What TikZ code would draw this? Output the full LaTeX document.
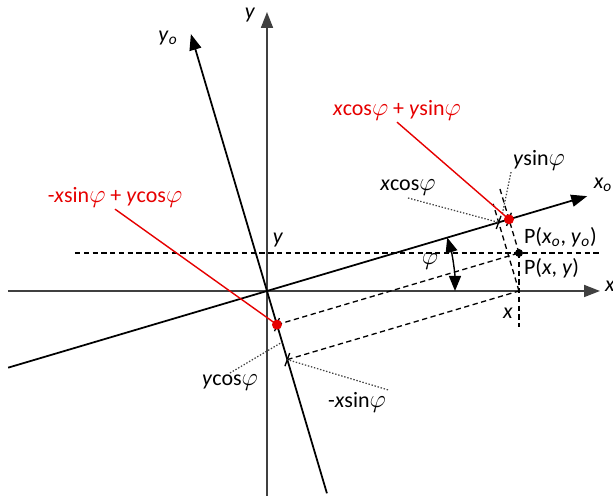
\documentclass[tikz,border=0pt]{standalone}
\usepackage{fontspec}
\setmainfont{Carlito}
\usepackage{xcolor}
\usetikzlibrary{arrows.meta,calc}
\definecolor{projred}{RGB}{230,0,0}
\newcommand{\phiang}{{\fontsize{15}{15}\selectfont$\varphi$}}
\tikzset{axis/.style={line width=1pt,-{Triangle[length=3.2mm,width=2.4mm]}},
  proj/.style={line width=0.75pt,dash pattern=on 3pt off 2pt},
  lead/.style={line width=0.7pt,dash pattern=on 0.8pt off 1pt,black!75},
  lbl/.style={font=\fontsize{12.5}{15}\selectfont,inner sep=1pt},
  redlbl/.style={lbl,text=projred},
  tick/.style={line width=0.75pt}}

\begin{document}
\begin{tikzpicture}[x=0.02cm,y=0.02cm]
\useasboundingbox (-267,-205) rectangle (346,291);
% axes
\coordinate (O) at (0,0);
\coordinate (xW) at (-259,0); \coordinate (xE) at (333,0);
\coordinate (yS) at (0,-205); \coordinate (yN) at (0,279);
\coordinate (xoW) at (196.5:270); \coordinate (xoE) at (16.5:334);
\coordinate (yoS) at (286.5:211); \coordinate (yoN) at (106.5:268);
\draw[axis,black!75] (xW) -- (xE);
\draw[axis,black!75] (yS) -- (yN);
\draw[axis] (xoW) -- (xoE);
\draw[axis] (yoS) -- (yoN);
% point and its projections
\coordinate (P) at (252,38);
\coordinate (X) at (252,0);
\coordinate (R) at ($(O)!(P)!(xoE)$);
\coordinate (A) at ($(O)!(X)!(xoE)$);
\coordinate (B) at ($(O)!(P)!(yoN)$);
\coordinate (C) at ($(O)!(X)!(yoN)$);
\coordinate (hW) at (-192,38); \coordinate (hE) at (333,38);
\coordinate (vS) at (252,-36);
\draw[proj] (hW) -- (hE);
\draw[proj] (P) -- (vS);
\draw[proj] (P) -- ($(P)!2!(R)$);
\draw[proj] (X) -- ($(X)!1.27!(A)$);
\draw[proj] (B) -- (P);
\draw[proj] (C) -- (X);
\foreach \t in {A,R,B,C}
  \draw[tick] ($(\t)+(70:7)$) -- ($(\t)+(250:7)$);
% angle
\draw[line width=0.8pt,{Triangle[length=3mm,width=2.4mm]}-{Triangle[length=3mm,width=2.4mm]}]
  (16.5:188) arc[start angle=16.5,end angle=0,radius=3.76cm];
% labels
\node[lbl] (lx) at (343,5) {\textit{x}};
\node[lbl] (ly) at (-17,276) {\textit{y}};
\node[lbl] (lxo) at (336,106) {\textit{x}\textsubscript{\textit{o}}};
\node[lbl] (lyo) at (-99,253) {\textit{y}\textsubscript{\textit{o}}};
\node[lbl] (ly2) at (11,51) {\textit{y}};
\node[lbl] (lx2) at (241,-22) {\textit{x}};
\node[lbl] (lphi) at (163,29) {\phiang};
\node[lbl,anchor=west] (lP1) at (255,54) {P(\textit{x}\textsubscript{\textit{o}}, \textit{y}\textsubscript{\textit{o}})};
\node[lbl,anchor=west] (lP2) at (255,23) {P(\textit{x}, \textit{y})};
\node[lbl] (lxc) at (141,103) {\textit{x}cos\phiang};
\node[lbl] (lys) at (272,131) {\textit{y}sin\phiang};
\node[lbl] (lyc) at (-37,-92) {\textit{y}cos\phiang};
\node[lbl] (lxs) at (90,-111) {-\textit{x}sin\phiang};
\node[redlbl] (lred1) at (130,181) {\textit{x}cos\phiang\ + \textit{y}sin\phiang};
\node[redlbl] (lred2) at (-152,94) {-\textit{x}sin\phiang\ + \textit{y}cos\phiang};
% leaders
\coordinate (ysTip) at ($(A)!0.6!(R)+(106.5:8)$);
\draw[lead] (lxc.south) -- (A);
\draw[lead] (lys.south west) -- (ysTip);
\draw[lead] (lyc.north) -- ($(B)!0.5!(C)$);
\draw[lead] (lxs.north east) -- (C);
\draw[projred,line width=0.8pt] (lred1.south) -- (R);
\draw[projred,line width=0.8pt] (lred2.south) -- (B);
\fill[projred] (R) circle[radius=0.1cm];
\fill[projred] (B) circle[radius=0.1cm];
\fill (P) circle[radius=0.08cm];
\end{tikzpicture}
\end{document}
